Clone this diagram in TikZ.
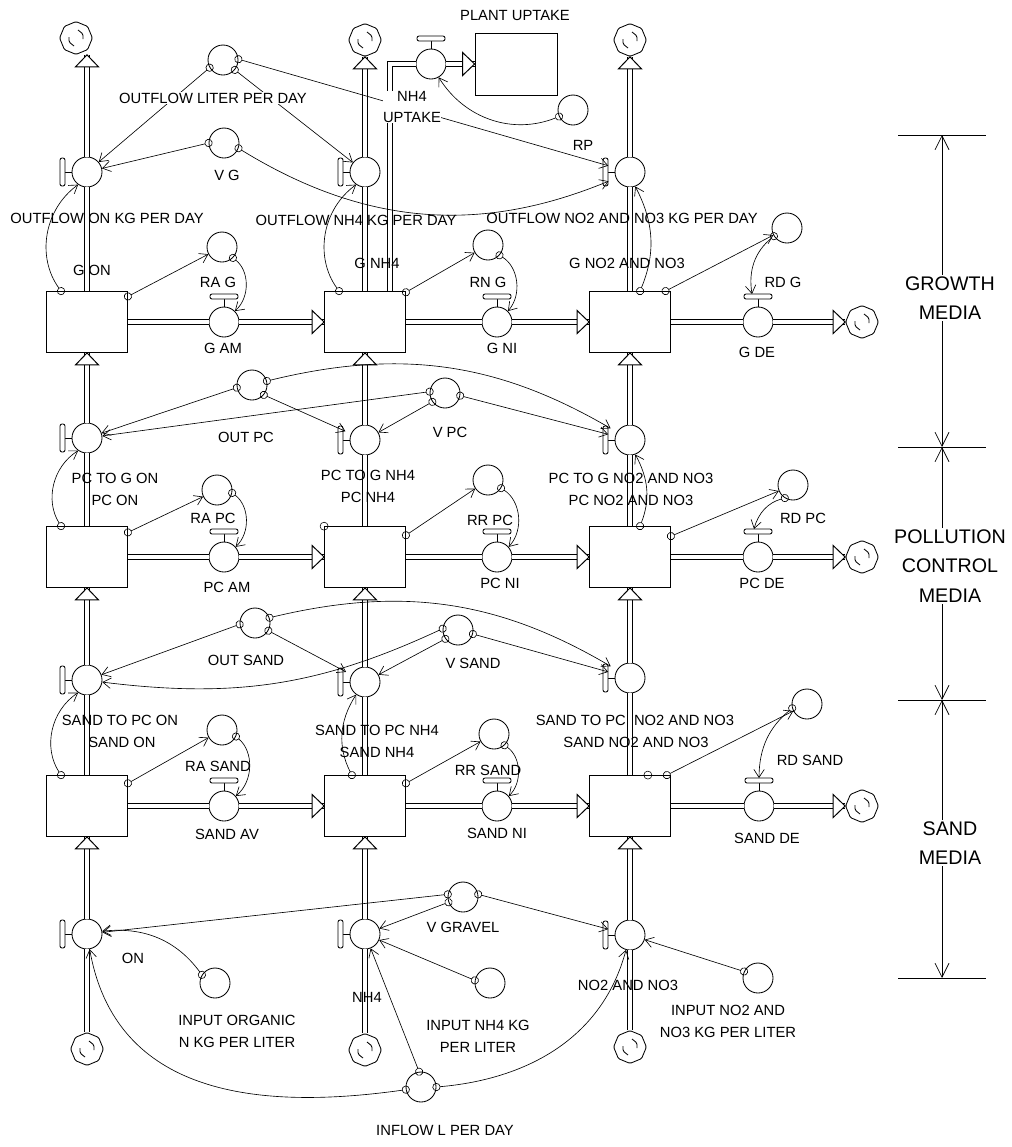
\documentclass[tikz,border=0pt]{standalone}
\usepackage{fontspec}
\setmainfont{Liberation Sans}
\usetikzlibrary{positioning, arrows.meta, shapes.geometric}

\begin{document}
\begin{tikzpicture}[
    x=0.25mm, y=-0.25mm,        % 1 unit = 1 pixel of the sketch
    line width=0.6pt,
    font=\fontsize{10.5}{15.6}\selectfont,
    stock/.style={draw, fill=white, minimum width=20.25mm, minimum height=15.25mm, inner sep=0pt},
    conv/.style={circle, draw, fill=white, minimum size=7.5mm, inner sep=0pt},
    valve/.style={circle, draw, fill=white, minimum size=7.5mm, inner sep=0pt},
    cloudn/.style={regular polygon, regular polygon sides=8, shape border rotate=22.5,
        draw, fill=white, rounded corners=0.35mm, minimum size=8.2mm, inner sep=0pt,
        path picture={
            \draw ([shift={(2,-8)}]path picture bounding box.center) -- ++(5,4) -- ++(0,5);
            \draw ([shift={(-2,8)}]path picture bounding box.center) -- ++(-5,-4) -- ++(0,-5);
        }},
    dotn/.style={circle, draw, minimum size=2mm, inner sep=0pt, line width=0.4pt},
    lbl/.style={inner sep=0.5pt, align=center},
    big/.style={fill=white, inner sep=1pt, align=center, font=\fontsize{14}{21}\selectfont},
    pipe/.style={double=white, double distance=0.9mm, line width=0.25mm},
    lnk/.style={{Circle[open, length=2mm, width=2mm]}-{Straight Barb[length=2mm, width=2.6mm]},
        shorten <=-1mm, line width=0.45pt},
    brk/.style={{Straight Barb[length=3.5mm, width=3.5mm]}-{Straight Barb[length=3.5mm, width=3.5mm]}, line width=0.5pt},
    flowhead/.pic={\draw[fill=white, line width=0.25mm] (0,0) -- (-12,11.5) -- (-12,-11.5) -- cycle;}
]
    \useasboundingbox (0,0) rectangle (1012,1147);

    % --- stocks ---
    \foreach \rw/\y in {g/322, pc/557, s/806}
        \foreach \i/\x in {1/87, 2/365, 3/630}
            \node[stock] (\rw\i) at (\x,\y) {};
    \node[stock, minimum width=20.5mm, minimum height=15.5mm] (plant) at (516,64) {};

    % --- valves on the vertical flows (handle on the left) ---
    \foreach \n/\x/\y in {vo1/87/172, vo2/365/172, vo3/630/172,
                          vp1/87/438, vp2/365/440, vp3/630/440,
                          vs1/87/680, vs2/365/682, vs3/630/678,
                          vi1/87/934, vi2/365/934, vi3/630/935}{
        \node[valve] (\n) at (\x,\y) {};
        \draw (\n.west) -- ++(-7,0);
        \draw[fill=white, rounded corners=0.5mm] ([shift={(-27,-14)}]\n.center) rectangle ++(5,28);
    }

    % --- valves on the horizontal flows (handle on top) ---
    \foreach \n/\x/\y in {hg1/224/322, hg2/497/322, hg3/758/322,
                          hp1/224/557, hp2/497/557, hp3/758/557,
                          hs1/224/806, hs2/497/806, hs3/759/806, vup/431/64}{
        \node[valve] (\n) at (\x,\y) {};
        \draw (\n.north) -- ++(0,-8);
        \draw[fill=white, rounded corners=0.5mm] ([shift={(-14,-28)}]\n.center) rectangle ++(28,5);
    }

    % --- clouds ---
    \foreach \n/\x/\y in {ct1/76/38, ct2/365/40, ct3/630/40,
                          cb1/87/1049, cb2/365/1050, cb3/630/1047,
                          cr1/862/322, cr2/862/557, cr3/862/806}
        \node[cloudn] (\n) at (\x,\y) {};

    % --- converters ---
    \foreach \n/\x/\y in {cOL/223/60, cVG/224/143, cRAG/222/247, cRNG/488/245,
                          cRDG/787/228, cRP/573/110,
                          cOP/252/385, cVP/445/393, cRAP/217/490, cRRP/488/480, cRDP/793/485,
                          cOS/255/623, cVS/458/630, cRAS/222/730, cRRS/494/734, cRDS/807/704,
                          cVGr/463/897, cIO/215/983, cIN/490/983, cIC/758/978, cIF/421/1087}
        \node[conv] (\n) at (\x,\y) {};

    % --- material flows ---
    \foreach \i in {1,2,3}{
        \draw[pipe] (cb\i.north) -- (vi\i.south);
        \draw[pipe] (vi\i.north) -- (s\i.south);
        \draw[pipe] (s\i.north) -- (vs\i.south);
        \draw[pipe] (vs\i.north) -- (pc\i.south);
        \draw[pipe] (pc\i.north) -- (vp\i.south);
        \draw[pipe] (vp\i.north) -- (g\i.south);
        \draw[pipe] (g\i.north) -- (vo\i.south);
        \pic[rotate=90] at (s\i.south) {flowhead};
        \pic[rotate=90] at (pc\i.south) {flowhead};
        \pic[rotate=90] at (g\i.south) {flowhead};
    }
    \draw[pipe] (vo1.north) -- (vo1.north |- ct1.south);
    \pic[rotate=90] at (vo1.north |- ct1.south) {flowhead};
    \draw[pipe] (vo2.north) -- (ct2.south);
    \pic[rotate=90] at (ct2.south) {flowhead};
    \draw[pipe] (vo3.north) -- (ct3.south);
    \pic[rotate=90] at (ct3.south) {flowhead};

    \foreach \rw/\hv/\cl in {g/hg/cr1, pc/hp/cr2, s/hs/cr3}{
        \draw[pipe] (\rw1.east) -- (\hv1.west);
        \draw[pipe] (\hv1.east) -- (\rw2.west);
        \draw[pipe] (\rw2.east) -- (\hv2.west);
        \draw[pipe] (\hv2.east) -- (\rw3.west);
        \draw[pipe] (\rw3.east) -- (\hv3.west);
        \draw[pipe] (\hv3.east) -- (\cl.west);
        \pic at (\rw2.west) {flowhead};
        \pic at (\rw3.west) {flowhead};
        \pic at (\cl.west) {flowhead};
    }

    % plant uptake
    \draw[pipe] ([xshift=6.25mm]g2.north) |- (vup.west);
    \draw[pipe] (vup.east) -- (plant.west);
    \pic at (plant.west) {flowhead};

    % --- links: growth media ---
    \draw[lnk] (cOL.210) -- (vo1);
    \draw[lnk] (cOL.320) -- (vo2);
    \draw[lnk, shorten >=1.8mm] (cOL.3) -- (vo3);
    \draw[lnk] (cVG.180) -- (vo1);
    \draw[lnk, shorten >=2mm] (cVG.340) to[bend right=27] (vo3);
    \draw[lnk] (g1.130) to[bend left=45] (vo1.235);
    \draw[lnk] (g2.130) to[bend left=45] (vo2.235);
    \draw[lnk] (g3.72) to[bend right=25] (vo3.290);
    \draw[lnk] (g1.32) -- (cRAG);
    \draw[lnk] (cRAG.315) to[bend left=50] (hg1.45);
    \draw[lnk] (g2.36) -- (cRNG);
    \draw[lnk] (cRNG.318) to[bend left=50] (hg2.45);
    \draw[lnk] (g3.41) -- (cRDG);
    \draw[lnk] (cRDG.212) to[bend right=30] ([shift={(-6,-28)}]hg3.center);
    \draw[lnk] (cRP.205) to[bend left=40] (vup.300);

    % --- links: pollution control media ---
    \draw[lnk] (cOP.190) -- (vp1);
    \draw[lnk, shorten >=1.5mm] (cOP.320) -- (vp2);
    \draw[lnk, shorten >=1.8mm] (cOP.15) to[bend left=22] (vp3);
    \draw[lnk] (cVP.175) -- (vp1);
    \draw[lnk] (cVP.215) -- (vp2);
    \draw[lnk, shorten >=1.8mm] (cVP.350) -- (vp3);
    \draw[lnk] (pc1.130) to[bend left=45] (vp1.235);
    \draw[lnk] (pc3.72) to[bend right=25] (vp3.290);
    \draw[lnk] (pc1.31) -- (cRAP);
    \draw[lnk] (cRAP.349) to[bend left=50] (hp1.41);
    \draw[lnk] (pc2.28) -- (cRRP);
    \draw[lnk] (cRRP.328) to[bend left=50] (hp2.41);
    \draw[lnk] (pc3.27) -- (cRDP);
    \draw[lnk] (cRDP.238) to[bend right=30] ([shift={(-4,-28)}]hp3.center);
    \node[dotn] (dpc2) at (pc2.143) {};

    % --- links: sand media ---
    \draw[lnk] (cOS.185) -- (vs1);
    \draw[lnk, shorten >=1.5mm] (cOS.330) -- (vs2);
    \draw[lnk, shorten >=1.8mm] (cOS.20) to[bend left=22] (vs3);
    \draw[lnk] (cVS.175) to[bend left=16] (vs1);
    \draw[lnk] (cVS.215) -- (vs2);
    \draw[lnk, shorten >=1.8mm] (cVS.345) -- (vs3);
    \draw[lnk] (s1.130) to[bend left=45] (vs1.235);
    \draw[lnk] (s2.113) to[bend left=30] (vs2.235);
    \draw[lnk] (s1.29) -- (cRAS);
    \draw[lnk] (cRAS.335) to[bend left=50] (hs1.40);
    \draw[lnk] (s2.29) -- (cRRS);
    \draw[lnk] (cRRS.313) to[bend left=50] (hs2.40);
    \draw[lnk] (s3.40) -- (cRDS);
    \draw[lnk] (cRDS.196) to[bend right=25] ([shift={(0,-28)}]hs3.center);
    \node[dotn] (ds3) at (s3.60) {};

    % --- links: inputs ---
    \draw[lnk] (cVGr.170) -- (vi1);
    \draw[lnk] (cVGr.200) -- (vi2);
    \draw[lnk, shorten >=1.8mm] (cVGr.10) -- (vi3);
    \draw[lnk] (cIO.148) to[bend right=30] (vi1);
    \draw[lnk] (cIN.170) -- (vi2);
    \draw[lnk] (cIC.155) -- (vi3);
    \draw[lnk] (cIF.190) to[out=188, in=-80, looseness=1.1] (vi1);
    \draw[lnk] (cIF.97) -- (vi2);
    \draw[lnk] (cIF.0) to[out=5, in=-105] (vi3);

    % --- labels ---
    \node[lbl] (lPU) at (515,15) {PLANT UPTAKE};
    \node[lbl, fill=white] (lOL) at (213,98) {OUTFLOW LITER PER DAY};
    \node[lbl] (lVG) at (227,175) {V G};
    \node[lbl, fill=white, inner sep=0pt] (lUp) at (412,107) {NH4\\UPTAKE};
    \node[lbl] (lRP) at (583,145) {RP};
    \node[lbl] (lO1) at (107,218) {OUTFLOW ON KG PER DAY};
    \node[lbl] (lO2) at (356,220) {OUTFLOW NH4 KG PER DAY};
    \node[lbl] (lO3) at (622,218) {OUTFLOW NO2 AND NO3 KG PER DAY};
    \node[lbl] (lg1) at (92,270) {G ON};
    \node[lbl] (lg2) at (377,263) {G NH4};
    \node[lbl] (lg3) at (627,263) {G NO2 AND NO3};
    \node[lbl] (lRAG) at (218,282) {RA G};
    \node[lbl] (lRNG) at (488,282) {RN G};
    \node[lbl] (lRDG) at (783,282) {RD G};
    \node[lbl] (lhg1) at (223,348) {G AM};
    \node[lbl] (lhg2) at (502,348) {G NI};
    \node[lbl] (lhg3) at (757,352) {G DE};

    \node[lbl] (lOP) at (246,437) {OUT PC};
    \node[lbl] (lVP) at (450,432) {V PC};
    \node[lbl] (lvp1) at (115,478) {PC TO G ON};
    \node[lbl] (lpc1) at (115,500) {PC ON};
    \node[lbl] (lvp2) at (368,475) {PC TO G NH4};
    \node[lbl] (lpc2) at (368,497) {PC NH4};
    \node[lbl] (lvp3) at (631,478) {PC TO G NO2 AND NO3};
    \node[lbl] (lpc3) at (631,500) {PC NO2 AND NO3};
    \node[lbl] (lRAP) at (213,518) {RA PC};
    \node[lbl] (lRRP) at (490,520) {RR PC};
    \node[lbl] (lRDP) at (803,518) {RD PC};
    \node[lbl] (lhp1) at (227,587) {PC AM};
    \node[lbl] (lhp2) at (500,583) {PC NI};
    \node[lbl] (lhp3) at (762,583) {PC DE};

    \node[lbl] (lOS) at (246,660) {OUT SAND};
    \node[lbl] (lVS) at (473,663) {V SAND};
    \node[lbl] (lvs1) at (120,720) {SAND TO PC ON};
    \node[lbl] (ls1) at (122,742) {SAND ON};
    \node[lbl] (lvs2) at (377,730) {SAND TO PC NH4};
    \node[lbl] (ls2) at (377,752) {SAND NH4};
    \node[lbl] (lvs3) at (635,720) {SAND TO PC\ \ NO2 AND NO3};
    \node[lbl] (ls3) at (636,742) {SAND NO2 AND NO3};
    \node[lbl] (lRAS) at (218,766) {RA SAND};
    \node[lbl] (lRRS) at (488,770) {RR SAND};
    \node[lbl] (lRDS) at (810,760) {RD SAND};
    \node[lbl] (lhs1) at (227,834) {SAND AV};
    \node[lbl] (lhs2) at (497,833) {SAND NI};
    \node[lbl] (lhs3) at (767,838) {SAND DE};

    \node[lbl] (lVGr) at (463,927) {V GRAVEL};
    \node[lbl] (lvi1) at (133,958) {ON};
    \node[lbl] (lvi2) at (367,997) {NH4};
    \node[lbl] (lvi3) at (628,985) {NO2 AND NO3};
    \node[lbl] (lIO) at (237,1031) {INPUT ORGANIC\\N KG PER LITER};
    \node[lbl] (lIN) at (478,1036) {INPUT NH4 KG\\PER LITER};
    \node[lbl] (lIC) at (728,1021) {INPUT NO2 AND\\NO3 KG PER LITER};
    \node[lbl] (lIF) at (445,1130) {INFLOW L PER DAY};

    % --- media scale on the right ---
    \coordinate (m1) at (942,135);
    \coordinate (m2) at (942,447);
    \coordinate (m3) at (942,700);
    \coordinate (m4) at (942,978);
    \foreach \m in {m1,m2,m3,m4}
        \draw[line width=0.5pt] ([xshift=-11mm]\m) -- ([xshift=11mm]\m);
    \draw[brk] (m1) -- (m2);
    \draw[brk] (m2) -- (m3);
    \draw[brk] (m3) -- (m4);
    \node[big] (lGM) at (950,298) {GROWTH\\MEDIA};
    \node[big] (lPM) at (950,566) {POLLUTION\\CONTROL\\MEDIA};
    \node[big] (lSM) at (950,843) {SAND\\MEDIA};

\end{tikzpicture}
\end{document}
